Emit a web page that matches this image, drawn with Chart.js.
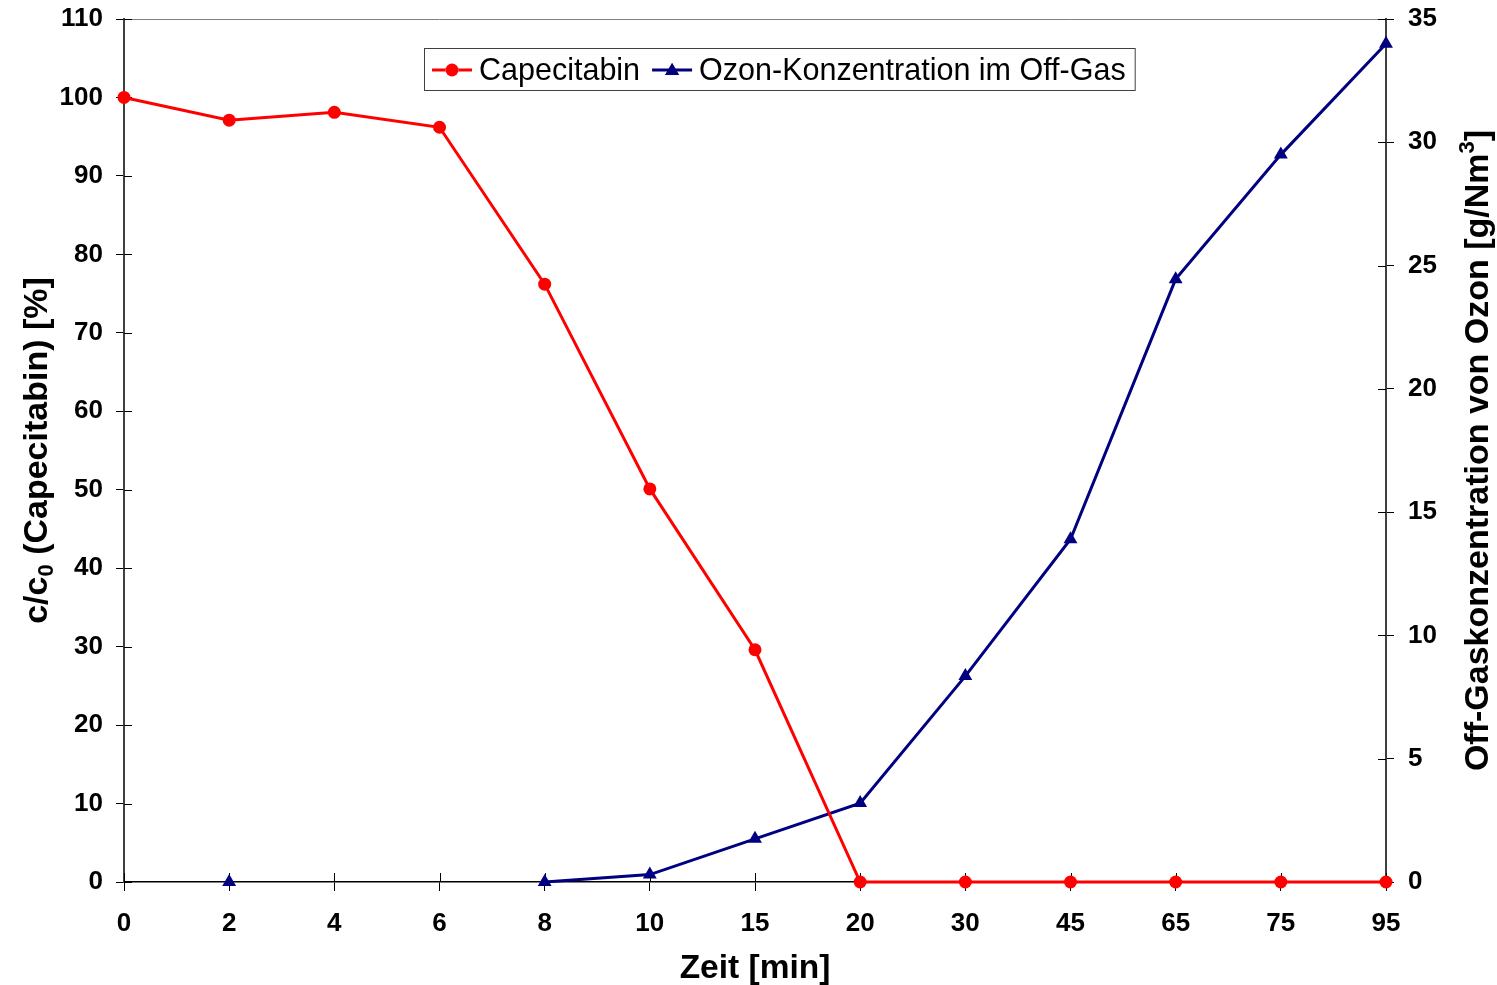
<!DOCTYPE html>
<html lang="de">
<head>
<meta charset="UTF-8">
<title>Capecitabin – Ozonung</title>
<script src="https://cdn.jsdelivr.net/npm/chart.js"></script>
<style>
  html, body { margin: 0; padding: 0; background: #fff; }
  #wrap { width: 1497px; height: 985px; }
</style>
</head>
<body>
<div id="wrap"><canvas id="chart"></canvas></div>
<script>
// Zeitpunkte der Probenahme [min]
const zeit = ['0', '2', '4', '6', '8', '10', '15', '20', '30', '45', '65', '75', '95'];
// c/c0 Capecitabin [%]
const capecitabin = [100, 97.1, 98.1, 96.2, 76.2, 50.1, 29.6, 0, 0, 0, 0, 0, 0];
// Ozon im Off-Gas [g/Nm3], ohne Messung = null
const ozonOffGas = [null, 0, null, null, 0, 0.3, 1.75, 3.2, 8.35, 13.9, 24.45, 29.5, 34];
const ticksLinks = [0, 10, 20, 30, 40, 50, 60, 70, 80, 90, 100, 110];
const ticksRechts = [0, 5, 10, 15, 20, 25, 30, 35];

const FONT = '"Liberation Sans", Arial, Helvetica, sans-serif';
const ROT = '#ff0000';
const BLAU = '#000080';

// Text mit Tief-/Hochstellung, um -90° gedreht
function drawRotated(ctx, cx, cy, parts) {
  ctx.save();
  ctx.translate(cx, cy);
  ctx.rotate(-Math.PI / 2);
  let total = 0;
  parts.forEach(p => {
    ctx.font = `bold ${p.size}px ${FONT}`;
    p.w = ctx.measureText(p.text).width;
    total += p.w;
  });
  let x = -total / 2;
  const base = parts[0].size * 0.36;
  ctx.fillStyle = '#000';
  ctx.textBaseline = 'alphabetic';
  ctx.textAlign = 'left';
  parts.forEach(p => {
    ctx.font = `bold ${p.size}px ${FONT}`;
    ctx.fillText(p.text, x, base + (p.dy || 0));
    x += p.w;
  });
  ctx.restore();
}

const rahmen = {
  id: 'rahmen',
  beforeDatasetsDraw(chart) {
    const { ctx, chartArea: a, scales } = chart;
    ctx.save();
    // obere Begrenzung
    ctx.strokeStyle = '#808080';
    ctx.lineWidth = 1;
    ctx.beginPath();
    ctx.moveTo(a.left, a.top + 0.5);
    ctx.lineTo(a.right, a.top + 0.5);
    ctx.stroke();
    // Teilstriche nach innen
    ctx.strokeStyle = '#000';
    ctx.beginPath();
    scales.y.ticks.forEach((t, i) => {
      const y = Math.round(scales.y.getPixelForTick(i)) + 0.5;
      ctx.moveTo(a.left, y); ctx.lineTo(a.left + 8, y);
    });
    scales.y2.ticks.forEach((t, i) => {
      const y = Math.round(scales.y2.getPixelForTick(i)) + 0.5;
      ctx.moveTo(a.right, y); ctx.lineTo(a.right - 8, y);
    });
    scales.x.ticks.forEach((t, i) => {
      const x = Math.round(scales.x.getPixelForTick(i)) + 0.5;
      ctx.moveTo(x, a.bottom); ctx.lineTo(x, a.bottom - 9);
    });
    ctx.stroke();
    ctx.restore();
  },
  afterDraw(chart) {
    const { ctx, chartArea: a } = chart;
    const cy = (a.top + a.bottom) / 2;
    drawRotated(ctx, 35, cy, [
      { text: 'c/c', size: 34 },
      { text: '0', size: 22, dy: 6 },
      { text: ' (Capecitabin) [%]', size: 34 }
    ]);
    drawRotated(ctx, chart.width - 21, cy, [
      { text: 'Off-Gaskonzentration von Ozon [g/Nm', size: 34 },
      { text: '3', size: 22, dy: -14 },
      { text: ']', size: 34 }
    ]);

    // Legende mit Rahmen
    const left = a.left + 300, top = a.top + 29, h = 42;
    ctx.save();
    ctx.font = `30.5px ${FONT}`;
    const items = chart.data.datasets.map(ds => ({
      label: ds.label, color: ds.borderColor, style: ds.pointStyle,
      w: ctx.measureText(ds.label).width
    }));
    const seg = 40, gapSeg = 7, gapItem = 12, padL = 8, padR = 9;
    let width = padL + padR;
    items.forEach((it, i) => { width += seg + gapSeg + it.w + (i ? gapItem : 0); });
    ctx.fillStyle = '#fff';
    ctx.fillRect(left, top, width, h);
    ctx.strokeStyle = '#404040';
    ctx.lineWidth = 1;
    ctx.strokeRect(left + 0.5, top + 0.5, width, h);
    const my = top + h / 2 + 1;
    let x = left + padL;
    items.forEach((it, i) => {
      if (i) x += gapItem;
      ctx.strokeStyle = it.color;
      ctx.lineWidth = 3;
      ctx.beginPath();
      ctx.moveTo(x, my); ctx.lineTo(x + seg, my);
      ctx.stroke();
      Chart.helpers.drawPoint(ctx, {
        pointStyle: it.style, radius: it.style === 'triangle' ? 8 : 6.5,
        borderWidth: 0
      }, x + seg / 2, it.style === 'triangle' ? my + 1 : my);
      ctx.fillStyle = it.color;
      ctx.fill();
      x += seg + gapSeg;
      ctx.fillStyle = '#000';
      ctx.textBaseline = 'middle';
      ctx.fillText(it.label, x, my + 2);
      x += it.w;
    });
    ctx.restore();
  }
};

const fitY = w => s => { s.width = w; s.paddingTop = 0; s.paddingBottom = 0; };

new Chart(document.getElementById('chart'), {
  type: 'line',
  data: {
    labels: zeit,
    datasets: [
      {
        label: 'Capecitabin',
        data: capecitabin,
        yAxisID: 'y',
        borderColor: ROT,
        backgroundColor: ROT,
        borderWidth: 3,
        pointStyle: 'circle',
        pointRadius: 6.5,
        pointBorderWidth: 0,
        clip: false,
        tension: 0
      },
      {
        label: 'Ozon-Konzentration im Off-Gas',
        data: ozonOffGas,
        yAxisID: 'y2',
        borderColor: BLAU,
        backgroundColor: BLAU,
        borderWidth: 3,
        pointStyle: 'triangle',
        pointRadius: 8,
        pointBorderWidth: 0,
        spanGaps: false,
        clip: false,
        tension: 0
      }
    ]
  },
  options: {
    responsive: true,
    maintainAspectRatio: false,
    animation: false,
    events: [],
    layout: { padding: { top: 19, left: 0, right: 0, bottom: 0 } },
    plugins: { legend: { display: false }, tooltip: { enabled: false } },
    scales: {
      x: {
        type: 'category',
        offset: false,
        grid: { drawOnChartArea: false, tickLength: 9, color: '#000' },
        border: { color: '#000', width: 1.5 },
        ticks: { color: '#000', padding: 17, font: { family: FONT, size: 26, weight: 'bold' }, autoSkip: false, maxRotation: 0 },
        title: { display: true, text: 'Zeit [min]', color: '#000', font: { family: FONT, size: 33.5, weight: 'bold' }, padding: { top: 0, bottom: -4 } },
        afterFit: s => { s.height = 103; s.paddingLeft = 0; s.paddingRight = 0; }
      },
      y: {
        position: 'left',
        min: 0, max: 110,
        afterBuildTicks: s => { s.ticks = ticksLinks.map(v => ({ value: v })); },
        grid: { drawOnChartArea: false, tickLength: 8, color: '#000' },
        border: { color: '#404040', width: 2 },
        ticks: { color: '#000', padding: 13, font: { family: FONT, size: 26, weight: 'bold' } },
        afterFit: fitY(124)
      },
      y2: {
        position: 'right',
        min: 0, max: 35,
        afterBuildTicks: s => { s.ticks = ticksRechts.map(v => ({ value: v })); },
        grid: { drawOnChartArea: false, tickLength: 8, color: '#000' },
        border: { color: '#404040', width: 2 },
        ticks: { color: '#000', padding: 14, font: { family: FONT, size: 26, weight: 'bold' } },
        afterFit: fitY(111)
      }
    }
  },
  plugins: [rahmen]
});
</script>
</body>
</html>
